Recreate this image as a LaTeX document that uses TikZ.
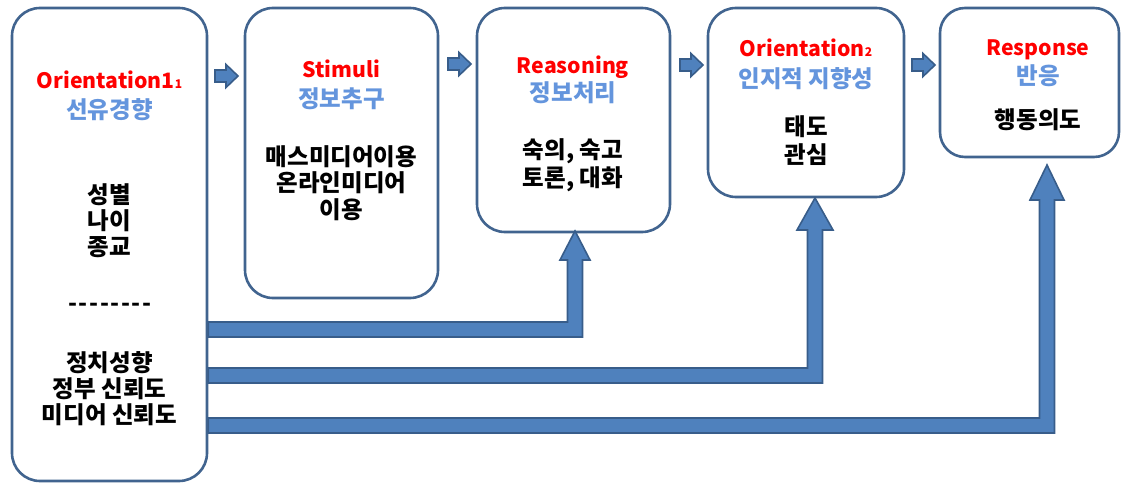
\documentclass[tikz,border=0pt]{standalone}
\usepackage{fontspec}
\setmainfont{Noto Sans CJK KR}
\definecolor{boxline}{HTML}{41648F}
\definecolor{arrowfill}{HTML}{4F81BD}
\definecolor{arrowline}{HTML}{385D8A}
\definecolor{titlered}{HTML}{FF0000}
\definecolor{subblue}{HTML}{6495DD}
\newcommand{\dsh}{-\kern1.6pt}
\newcommand{\lowidx}[1]{{\fontsize{12}{12}\selectfont #1}}
\tikzset{
  box/.style={draw=boxline, line width=2.6pt, rounded corners=28pt, fill=white, inner sep=0pt},
  lbl/.style={anchor=base, inner sep=0pt},
  hd/.style={lbl, text=titlered, font=\bfseries\fontsize{21.2}{26}\selectfont},
  subt/.style={lbl, text=subblue, font=\bfseries\fontsize{23.5}{28}\selectfont},
  body/.style={lbl, text=black, font=\bfseries\fontsize{23.5}{28}\selectfont},
  blockarrow/.style={fill=arrowfill, draw=arrowline, line width=1.6pt, line join=miter},
}
% small right block arrow: left x, centre y
\newcommand{\smallarrow}[2]{%
  \filldraw[blockarrow] (#1,#2-6) -- (#1+11,#2-6) -- (#1+11,#2-11.5) -- (#1+23,#2)
    -- (#1+11,#2+11.5) -- (#1+11,#2+6) -- (#1,#2+6) -- cycle;}
% bent block arrow: start x, bar centre y, shaft centre x, tip y, head length, head half width
\newcommand{\bentarrow}[6]{%
  \filldraw[blockarrow] (#1,#2-7.5) -- (#3-7.5,#2-7.5) -- (#3-7.5,#4+#5) -- (#3-#6,#4+#5)
    -- (#3,#4) -- (#3+#6,#4+#5) -- (#3+7.5,#4+#5) -- (#3+7.5,#2+7.5) -- (#1,#2+7.5) -- cycle;}
\begin{document}
\begin{tikzpicture}[x=1pt,y=-1pt]
\useasboundingbox (0,0) rectangle (1122,484);

% boxes
\node[box, minimum width=195pt, minimum height=473pt] (box1) at (109.5,244.5) {};
\node[box, minimum width=193pt, minimum height=290pt] (box2) at (341.5,153) {};
\node[box, minimum width=193pt, minimum height=224pt] (box3) at (573.5,120) {};
\node[box, minimum width=196pt, minimum height=189pt] (box4) at (806,102.5) {};
\node[box, minimum width=179pt, minimum height=149pt, rounded corners=25pt] (box5) at (1029.5,82.5) {};

% small arrows between boxes
\smallarrow{215}{76}
\smallarrow{448}{64}
\smallarrow{680}{65}
\smallarrow{912}{65}

% bent arrows from box1
\bentarrow{208.3}{329.5}{575}{231}{29}{15}
\bentarrow{208.3}{375.5}{815}{198}{32}{18}
\bentarrow{208.3}{425.5}{1047}{165}{35}{17}

% box1 texts
\node[hd]   (t1a) at (109.5,89)  {Orientation1\lowidx{1}};
\node[subt] (t1b) at (109.5,119) {선유경향};
\node[body] (t1c) at (109.5,204) {성별};
\node[body] (t1d) at (109.5,229) {나이};
\node[body] (t1e) at (109.5,255) {종교};
\node[body] (t1f) at (110,311)   {\dsh\dsh\dsh\dsh\dsh\dsh\dsh-};
\node[body] (t1g) at (109.5,371) {정치성향};
\node[body] (t1h) at (109.5,397) {정부 신뢰도};
\node[body] (t1i) at (109.5,423) {미디어 신뢰도};

% box2 texts
\node[hd]   (t2a) at (341.5,78)  {Stimuli};
\node[subt] (t2b) at (341.5,108) {정보추구};
\node[body] (t2c) at (341.5,165) {매스미디어이용};
\node[body] (t2d) at (341.5,191) {온라인미디어};
\node[body] (t2e) at (341.5,218) {이용};

% box3 texts
\node[hd]   (t3a) at (573,74)  {Reasoning};
\node[subt] (t3b) at (573,102) {정보처리};
\node[body] (t3c) at (573,159) {숙의, 숙고};
\node[body] (t3d) at (573,186) {토론, 대화};

% box4 texts
\node[hd]   (t4a) at (806,57)  {Orientation\lowidx{2}};
\node[subt] (t4b) at (806,88)  {인지적 지향성};
\node[body] (t4c) at (806,136) {태도};
\node[body] (t4d) at (806,164) {관심};

% box5 texts
\node[hd]   (t5a) at (1038,56)  {Response};
\node[subt] (t5b) at (1038,85)  {반응};
\node[body] (t5c) at (1038,129) {행동의도};
\end{tikzpicture}
\end{document}
